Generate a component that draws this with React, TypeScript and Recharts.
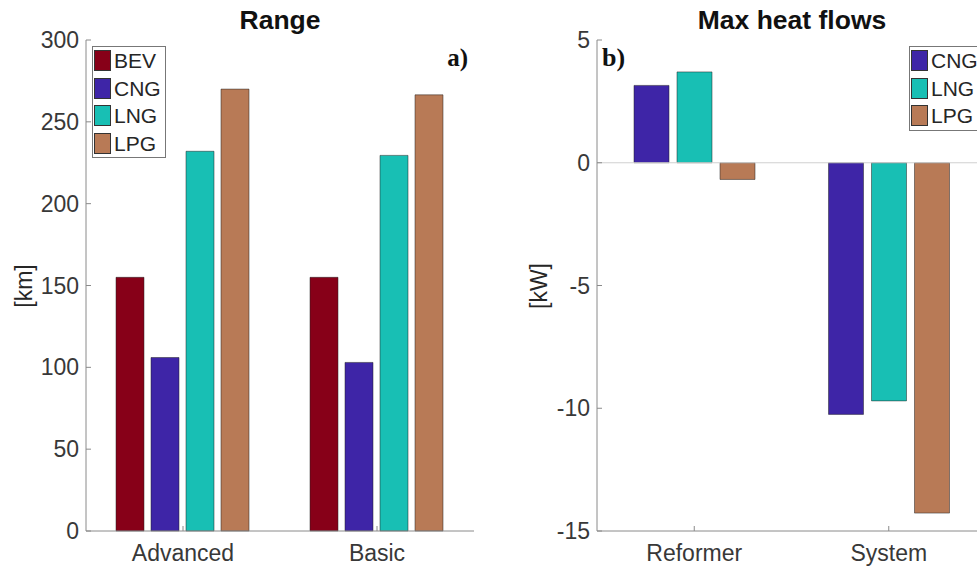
import React from 'react';
import { BarChart, Bar, XAxis, YAxis, Legend, ReferenceLine } from 'recharts';

// panel a) range per vehicle setup
const rangeCategories = ['Advanced', 'Basic'];
const bevRange = [155, 155];
const cngRange = [106, 103];
const lngRange = [232, 229.5];
const lpgRange = [270, 266.5];
const rangeTicks = [0, 50, 100, 150, 200, 250, 300];

// panel b) max heat flows
const heatCategories = ['Reformer', 'System'];
const cngHeat = [3.15, -10.25];
const lngHeat = [3.7, -9.7];
const lpgHeat = [-0.68, -14.27];
const heatTicks = [-15, -10, -5, 0, 5];

const COLORS = { BEV: '#870018', CNG: '#3e25a7', LNG: '#18bfb4', LPG: '#b87a56' };

const rangeData = rangeCategories.map((name, i) => ({
  name,
  BEV: bevRange[i],
  CNG: cngRange[i],
  LNG: lngRange[i],
  LPG: lpgRange[i],
}));

const heatData = heatCategories.map((name, i) => ({
  name,
  CNG: cngHeat[i],
  LNG: lngHeat[i],
  LPG: lpgHeat[i],
}));

const FONT = '"Liberation Sans", Arial, sans-serif';
const AXIS = '#8a8a8a';
const TICK_TEXT = { fill: '#383838', fontSize: 23, fontFamily: FONT };

const LegendBox = ({ payload }: any) => (
  <div style={{ border: '1px solid #777', background: '#fff', paddingRight: 4 }}>
    {(payload || []).map((p: any) => (
      <div key={p.value} style={{ display: 'flex', alignItems: 'center', height: 27.5 }}>
        <span style={{ width: 17, height: 21, marginLeft: 1, background: p.color, boxSizing: 'border-box', border: '0.5px solid #333' }} />
        <span style={{ fontSize: 21, marginLeft: 3, color: '#262626', lineHeight: 1, fontFamily: FONT }}>{p.value}</span>
      </div>
    ))}
  </div>
);

const boxAxes = (keyName: string, domain: number[], ticks: number[], yWidth: number, yMargin: number) => [
  <XAxis key="xb" xAxisId="b" dataKey={keyName} height={30} tickSize={-5} tickMargin={19} stroke={AXIS} tick={TICK_TEXT} />,
  <XAxis key="xt" xAxisId="t" dataKey={keyName} orientation="top" height={0} tick={false} tickSize={-5} stroke={AXIS} />,
  <YAxis key="yl" yAxisId="l" type="number" domain={domain} ticks={ticks} interval={0} width={yWidth} tickSize={-5} tickMargin={yMargin} stroke={AXIS} tick={TICK_TEXT} />,
  <YAxis key="yr" yAxisId="r" orientation="right" type="number" domain={domain} ticks={ticks} interval={0} width={0} tick={false} tickSize={-5} stroke={AXIS} />,
];

const App: React.FC = () => (
  <div style={{ position: 'fixed', left: 0, top: 0, width: 977, height: 570, overflow: 'hidden', background: '#fff', fontFamily: FONT }}>
    <div style={{ position: 'absolute', left: 0, top: 0 }}>
      <BarChart width={490} height={570} data={rangeData} margin={{ top: 40, right: 16, bottom: 9, left: 26 }} barCategoryGap={30} barGap={7}>
        {boxAxes('name', [0, 300], rangeTicks, 60, 12)}
        <Legend layout="vertical" align="center" verticalAlign="middle" content={<LegendBox />}
          wrapperStyle={{ left: 92, top: 46, width: 'auto', height: 'auto' }} />
        {(['BEV', 'CNG', 'LNG', 'LPG'] as const).map((k) => (
          <Bar key={k} dataKey={k} xAxisId="b" yAxisId="l" fill={COLORS[k]} stroke="#222" strokeWidth={0.5} isAnimationActive={false} />
        ))}
      </BarChart>
    </div>
    <div style={{ position: 'absolute', left: 490, top: 0 }}>
      <BarChart width={510} height={570} data={heatData} margin={{ top: 40, right: 14, bottom: 9, left: 47 }} barCategoryGap={37} barGap={8}>
        {boxAxes('name', [-15, 5], heatTicks, 60, 12)}
        <ReferenceLine y={0} xAxisId="b" yAxisId="l" stroke="#d0d0d0" strokeWidth={1} />
        <Legend layout="vertical" align="center" verticalAlign="middle" content={<LegendBox />}
          wrapperStyle={{ left: 419, top: 46, width: 'auto', height: 'auto' }} />
        {(['CNG', 'LNG', 'LPG'] as const).map((k) => (
          <Bar key={k} dataKey={k} xAxisId="b" yAxisId="l" fill={COLORS[k]} stroke="#222" strokeWidth={0.5} isAnimationActive={false} />
        ))}
      </BarChart>
    </div>
    <svg width={977} height={570} style={{ position: 'absolute', left: 0, top: 0, pointerEvents: 'none' }}>
      <text x={280} y={29} textAnchor="middle" fontSize={26.5} fontWeight="bold" fill="#111">Range</text>
      <text x={792} y={29} textAnchor="middle" fontSize={26.5} fontWeight="bold" fill="#111">Max heat flows</text>
      <text transform="translate(24,286) rotate(-90)" textAnchor="middle" dominantBaseline="central" fontSize={23} fill="#262626">[km]</text>
      <text transform="translate(539,286) rotate(-90)" textAnchor="middle" dominantBaseline="central" fontSize={23} fill="#262626">[kW]</text>
      <text x={468} y={66} textAnchor="end" fontSize={25} fontWeight="bold" fontFamily='"Liberation Serif", "Times New Roman", serif' fill="#111">a)</text>
      <text x={602} y={66} fontSize={26} fontWeight="bold" fontFamily='"Liberation Serif", "Times New Roman", serif' fill="#111">b)</text>
    </svg>
  </div>
);

export default App;
